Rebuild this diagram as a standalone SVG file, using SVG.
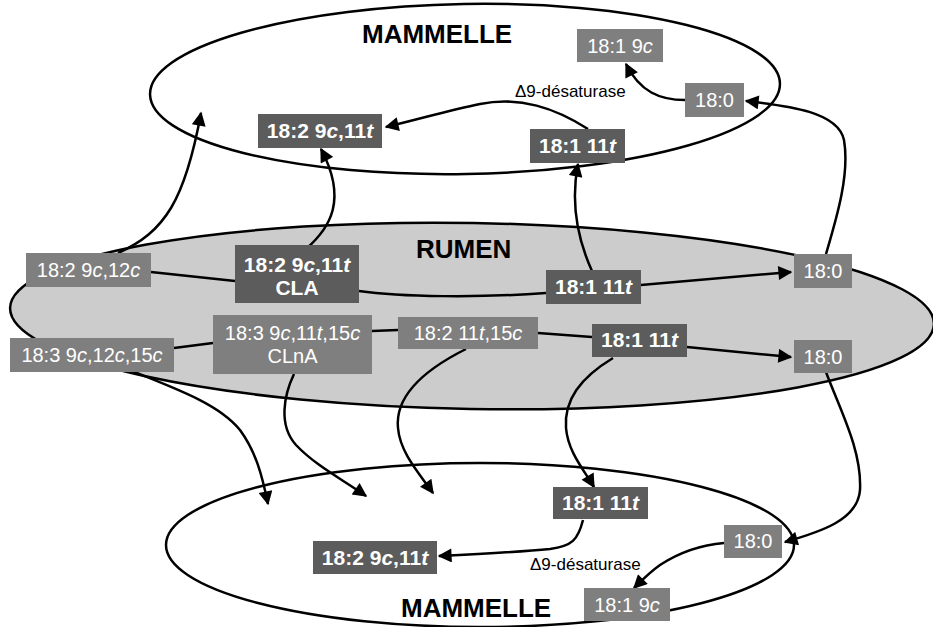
<svg xmlns="http://www.w3.org/2000/svg" width="933" height="627" viewBox="0 0 933 627">
<defs>
<marker id="ah" viewBox="0 0 10 10" refX="9" refY="5" markerUnits="userSpaceOnUse" markerWidth="16" markerHeight="14" orient="auto">
<path d="M0,0 L10,5 L0,10 z" fill="#000"/>
</marker>
<style>
.ell{fill:none;stroke:#000;stroke-width:2.5}
.c{fill:none;stroke:#000;stroke-width:2.5}
.a{marker-end:url(#ah)}
.m{fill:#7f7f7f}
.d{fill:#5c5c5c}
.t{font-family:"Liberation Sans",Arial,sans-serif;font-size:20px;fill:#fff;text-anchor:middle}
.b{font-weight:bold;font-size:21px}
.i{font-style:italic}
.h{font-family:"Liberation Sans",Arial,sans-serif;font-size:26px;font-weight:bold;fill:#000}
.e{font-family:"Liberation Sans",Arial,sans-serif;font-size:17px;fill:#000}
</style>
</defs>
<rect width="933" height="627" fill="#fff"/>
<g id="ellipses">
<ellipse cx="472" cy="316" rx="462" ry="93" fill="#cccccc" stroke="#000" stroke-width="2.5" transform="rotate(1 472 316)"/>
<ellipse class="ell" cx="465" cy="89" rx="315" ry="85" transform="rotate(-1 465 89)"/>
<ellipse class="ell" cx="480" cy="545" rx="314" ry="82"/>
</g>
<g id="labels">
<text class="h" x="362" y="43">MAMMELLE</text>
<text class="h" x="416" y="258">RUMEN</text>
<text class="h" x="401" y="617">MAMMELLE</text>
<text class="e" x="515" y="97">Δ9-désaturase</text>
<text class="e" x="530" y="570">Δ9-désaturase</text>
</g>
<g id="connectors">
<path class="c a" d="M118,253 C165,232 185,200 201,113"/>
<path class="c a" d="M306,249 C330,228 348,200 321,149"/>
<path class="c a" d="M592,271 C578,240 570,205 578,164"/>
<path class="c a" d="M588,129 C555,108 520,96 480,104 C450,110 420,119 386,127"/>
<path class="c a" d="M685,100 C660,100 640,92 626,64"/>
<path class="c a" d="M826,254 C836,220 850,175 844,140 C838,112 790,106 746,101"/>
<path class="c" d="M151,272 L235,281"/>
<path class="c" d="M359,291 C400,297 480,298 546,293"/>
<path class="c a" d="M641,285 L791,272"/>
<path class="c" d="M174,348 L213,343"/>
<path class="c" d="M372,331 L398,330"/>
<path class="c" d="M538,333 L592,337"/>
<path class="c a" d="M687,347 L791,357"/>
<path class="c a" d="M127,369 C180,390 220,405 240,430 C256,452 262,475 268,504"/>
<path class="c a" d="M294,374 C284,395 278,425 296,445 C315,465 340,478 366,496"/>
<path class="c a" d="M466,349 C420,372 395,398 398,428 C400,452 418,472 433,493"/>
<path class="c a" d="M613,358 C580,378 564,400 566,428 C568,452 584,470 594,487"/>
<path class="c a" d="M826,372 C840,410 862,450 860,490 C858,520 820,532 785,542"/>
<path class="c a" d="M583,520 C578,540 572,546 550,549 C520,552 480,554 439,556"/>
<path class="c a" d="M724,543 C700,545 680,552 660,565 C650,572 642,580 634,588"/>
</g>
<g id="top-18-1-9c"><rect class="m" x="577" y="29" width="86" height="33"/><text class="t" x="620" y="53">18:1 9<tspan class="i">c</tspan></text></g>
<g id="top-18-0"><rect class="m" x="685" y="83" width="59" height="34"/><text class="t" x="714.5" y="107">18:0</text></g>
<g id="top-18-1-11t"><rect class="d" x="530" y="129" width="95" height="34"/><text class="t b" x="577.5" y="153">18:1 11<tspan class="i">t</tspan></text></g>
<g id="top-18-2-9c11t"><rect class="d" x="258" y="114" width="124" height="34"/><text class="t b" x="320" y="138">18:2 9<tspan class="i">c</tspan>,11<tspan class="i">t</tspan></text></g>
<g id="rumen-18-2-9c12c"><rect class="m" x="26" y="253" width="125" height="34"/><text class="t" x="88.5" y="277">18:2 9<tspan class="i">c</tspan>,12<tspan class="i">c</tspan></text></g>
<g id="rumen-cla"><rect class="d" x="235" y="245" width="124" height="58"/><text class="t b" x="297" y="272">18:2 9<tspan class="i">c</tspan>,11<tspan class="i">t</tspan></text><text class="t b" x="297" y="295">CLA</text></g>
<g id="rumen-18-1-11t-a"><rect class="d" x="546" y="270" width="95" height="34"/><text class="t b" x="593.5" y="294">18:1 11<tspan class="i">t</tspan></text></g>
<g id="rumen-18-0-a"><rect class="m" x="794" y="254" width="58" height="34"/><text class="t" x="823" y="278">18:0</text></g>
<g id="rumen-18-3-9c12c15c"><rect class="m" x="10" y="338" width="164" height="34"/><text class="t" x="92" y="362">18:3 9<tspan class="i">c</tspan>,12<tspan class="i">c</tspan>,15<tspan class="i">c</tspan></text></g>
<g id="rumen-clna"><rect class="m" x="213" y="315" width="159" height="59"/><text class="t" x="292.5" y="340">18:3 9<tspan class="i">c</tspan>,11<tspan class="i">t</tspan>,15<tspan class="i">c</tspan></text><text class="t" x="292.5" y="363">CLnA</text></g>
<g id="rumen-18-2-11t15c"><rect class="m" x="398" y="317" width="140" height="32"/><text class="t" x="468" y="340">18:2 11<tspan class="i">t</tspan>,15<tspan class="i">c</tspan></text></g>
<g id="rumen-18-1-11t-b"><rect class="d" x="592" y="324" width="95" height="33"/><text class="t b" x="639.5" y="347">18:1 11<tspan class="i">t</tspan></text></g>
<g id="rumen-18-0-b"><rect class="m" x="794" y="340" width="58" height="33"/><text class="t" x="823" y="364">18:0</text></g>
<g id="bot-18-1-11t"><rect class="d" x="553" y="487" width="95" height="32"/><text class="t b" x="600.5" y="510">18:1 11<tspan class="i">t</tspan></text></g>
<g id="bot-18-0"><rect class="m" x="724" y="525" width="58" height="33"/><text class="t" x="753" y="548">18:0</text></g>
<g id="bot-18-1-9c"><rect class="m" x="584" y="588" width="86" height="33"/><text class="t" x="627" y="612">18:1 9<tspan class="i">c</tspan></text></g>
<g id="bot-18-2-9c11t"><rect class="d" x="313" y="541" width="124" height="33"/><text class="t b" x="375" y="565">18:2 9<tspan class="i">c</tspan>,11<tspan class="i">t</tspan></text></g>
</svg>
